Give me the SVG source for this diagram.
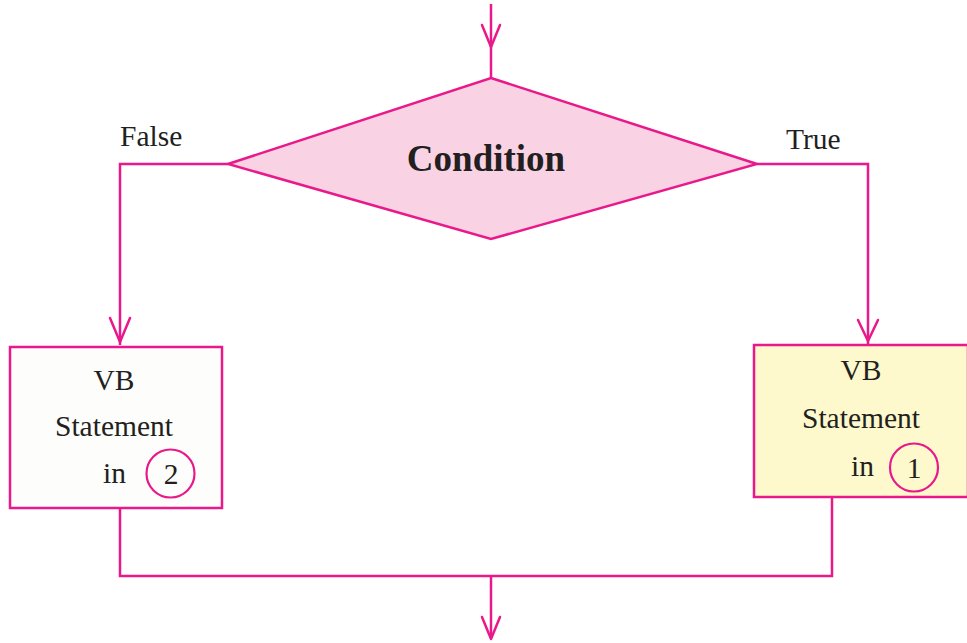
<svg xmlns="http://www.w3.org/2000/svg" width="967" height="643" viewBox="0 0 967 643">
<style>
.ln{fill:none;stroke:#e9198b;stroke-width:2.5;stroke-linejoin:miter}
.ah{fill:none;stroke:#e9198b;stroke-width:2.5;stroke-linecap:round;stroke-linejoin:round}
.t{font-family:"Liberation Serif","Times New Roman",serif;font-size:29.5px;fill:#231f20}
.c{fill:none;stroke:#e9198b;stroke-width:2.2}
</style>
<rect width="967" height="643" fill="#ffffff"/>
<g id="connectors">
<line class="ln" x1="491" y1="4" x2="491" y2="78"/>
<polyline class="ah" points="482,25 491,47 500,25"/>
<polyline class="ln" points="228,164 120,164 120,345"/>
<polyline class="ah" points="110,318 120,342 130,318"/>
<polyline class="ln" points="757,164 868,164 868,344"/>
<polyline class="ah" points="858,320 868,341 878,320"/>
<polyline class="ln" points="120,509 120,576 832,576 832,497"/>
<line class="ln" x1="491" y1="576" x2="491" y2="638"/>
<polyline class="ah" points="482,617 491,639 500,617"/>
<text class="t" x="120" y="146">False</text>
<text class="t" x="786" y="149">True</text>
</g>
<g id="condition">
<polygon points="491,78 757,164 491,239 228,164" fill="#f9d3e4" stroke="#e9198b" stroke-width="2.5"/>
<text x="486" y="171" text-anchor="middle" font-family="'Liberation Serif','Times New Roman',serif" font-size="37" font-weight="bold" fill="#231f20">Condition</text>
</g>
<g id="false-box">
<rect x="10" y="347" width="212" height="161" fill="#fdfdfb" stroke="#e9198b" stroke-width="2.5"/>
<text class="t" x="114" y="390" text-anchor="middle">VB</text>
<text class="t" x="114" y="436" text-anchor="middle">Statement</text>
<text class="t" x="103" y="483">in</text>
<circle class="c" cx="170.5" cy="473.5" r="24"/>
<text class="t" x="171" y="484" text-anchor="middle">2</text>
</g>
<g id="true-box">
<rect x="754" y="345" width="214" height="152" fill="#fdf9cc" stroke="#e9198b" stroke-width="2.5"/>
<text class="t" x="861" y="380" text-anchor="middle">VB</text>
<text class="t" x="861" y="428" text-anchor="middle">Statement</text>
<text class="t" x="851" y="476">in</text>
<circle class="c" cx="914" cy="467.5" r="24"/>
<text class="t" x="914" y="478" text-anchor="middle">1</text>
</g>
</svg>
